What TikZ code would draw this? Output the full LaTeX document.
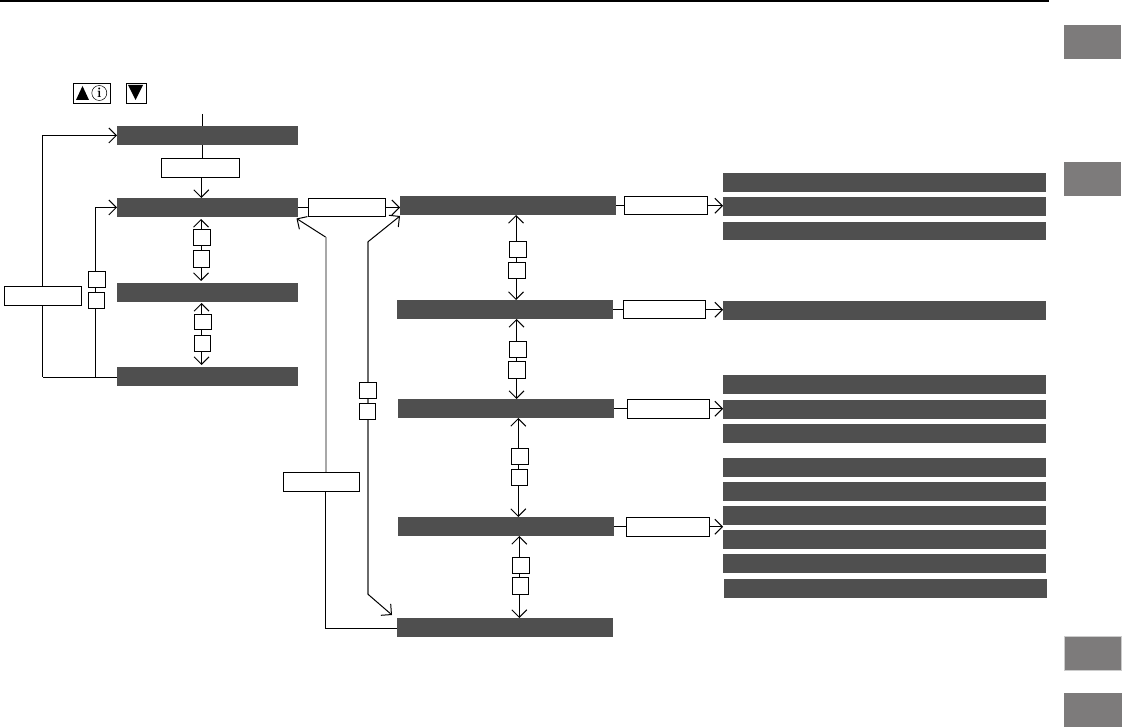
\documentclass[tikz,border=0pt]{standalone}
\usetikzlibrary{arrows.meta,backgrounds}
\definecolor{barcol}{HTML}{4F4F4F}
\definecolor{tabcol}{HTML}{7D7B7B}
\definecolor{lightline}{HTML}{A8A8A8}
\definecolor{darkline}{HTML}{6A6A6A}
\newcommand\mybox[6][]{%
  \pgfmathsetmacro\bwd{#5-#3}\pgfmathsetmacro\bht{#6-#4}%
  \node[#1,minimum width=\bwd pt,minimum height=\bht pt] (#2) at ({(#3+#5)/2},{(#4+#6)/2}) {};}
\tikzset{
  bar/.style={fill=barcol,draw=none,inner sep=0pt,outer sep=0pt},
  tabbox/.style={fill=tabcol,draw=none,inner sep=0pt,outer sep=0pt},
  wbox/.style={fill=white,draw=black,line width=1pt,inner sep=0pt,outer sep=0pt},
  conn/.style={draw=black,line width=1pt},
  arr/.style={conn,-{Straight Barb[length=7.5pt,width=15pt,line width=1pt]}},
  darr/.style={conn,{Straight Barb[length=7.5pt,width=15pt,line width=1pt]}-{Straight Barb[length=7.5pt,width=15pt,line width=1pt]}},
  glight/.style={draw=lightline,line width=2pt},
  gdark/.style={draw=darkline,line width=1.6pt},
}
\begin{document}
\begin{tikzpicture}[x=1pt,y=-1pt]
\useasboundingbox (0,0) rectangle (1122,727);
% top rule
\coordinate (ruleL) at (0,0.8);
\coordinate (ruleR) at (1049,0.8);
\draw[line width=1.6pt] (ruleL) -- (ruleR);
% side tabs
\mybox[tabbox]{tabA}{1064}{25}{1121}{59}
\mybox[tabbox]{tabB}{1064}{162}{1121}{196}
\mybox[tabbox,draw=black!20,line width=0.6pt]{tabC}{1064}{636.5}{1121}{670.5}
\mybox[tabbox]{tabD}{1064}{693}{1122}{727}
% key icons
\mybox[wbox,line width=0.8pt]{keyA}{73}{83}{110}{103}
\mybox[wbox,line width=0.8pt]{keyB}{126}{83}{146}{103}
\fill (76,100) -- (89,100) -- (82.5,86) -- cycle;
\fill (128,85) -- (143,85) -- (135.5,100) -- cycle;
\node[circle,draw=black,line width=0.5pt,inner sep=0pt,minimum size=15pt,font=\bfseries\fontsize{14}{14}\selectfont] (infoI) at (99.3,93) {i};
% left column
\mybox[bar]{L1}{117}{126}{298}{145}
\mybox[bar]{L2}{117}{198}{298}{217}
\mybox[bar]{L3}{117}{283}{298}{302}
\mybox[bar]{L4}{117}{367}{298}{386}
% middle column
\mybox[bar]{M1}{400}{196}{616}{215}
\mybox[bar]{M2}{397}{300}{613}{319}
\mybox[bar]{M3}{398}{399}{614}{418}
\mybox[bar]{M4}{398}{517}{614}{536}
\mybox[bar]{M5}{397}{618}{613}{637}
% right column
\mybox[bar]{Ra}{723}{173}{1046}{192}
\mybox[bar]{Rb}{723}{197}{1046}{216}
\mybox[bar]{Rc}{723}{222}{1046}{240}
\mybox[bar]{Rd}{723}{301}{1046}{320}
\mybox[bar]{Re}{723}{375}{1046}{394}
\mybox[bar]{Rf}{723}{400}{1046}{419}
\mybox[bar]{Rg}{723}{424}{1046}{443}
\mybox[bar]{Rh}{723}{458}{1046}{477}
\mybox[bar]{Ri}{723}{482}{1046}{501}
\mybox[bar]{Rj}{723}{506}{1046}{525}
\mybox[bar]{Rk}{723}{530}{1046}{549}
\mybox[bar]{Rl}{723}{554}{1046}{573}
\mybox[bar]{Rm}{724}{579}{1047}{598}
% wide white boxes
\mybox[wbox]{Bstart}{161}{159}{239}{178}
\mybox[wbox]{Bleft}{4.5}{286.5}{81}{305.5}
\mybox[wbox]{BL2}{308.5}{198.5}{385.5}{216.5}
\mybox[wbox]{Bback}{283.5}{472.5}{359.5}{491}
\mybox[wbox]{BM1}{624.5}{196.5}{707}{215}
\mybox[wbox]{BM2}{623.5}{300.5}{705}{319}
\mybox[wbox]{BM3}{627.5}{399.5}{709}{418}
\mybox[wbox]{BM4}{626.5}{517.5}{709}{536}
% small square boxes
\mybox[wbox]{Sa}{193.5}{229.5}{210.5}{246}
\mybox[wbox]{Sb}{193.5}{250.5}{209.5}{267.5}
\mybox[wbox]{Sc}{194.5}{314.5}{211.5}{330}
\mybox[wbox]{Sd}{194.5}{335.5}{210.5}{351.5}
\mybox[wbox]{Se}{88.5}{271.5}{105.5}{288}
\mybox[wbox]{Sf}{88.5}{292.5}{104.5}{309}
\mybox[wbox]{Sg}{359.5}{382.5}{376.5}{398}
\mybox[wbox]{Sh}{359.5}{403.5}{375.5}{419.5}
\mybox[wbox]{Si}{509.5}{241.5}{526.5}{258}
\mybox[wbox]{Sj}{508.5}{262.5}{525.5}{278.5}
\mybox[wbox]{Sk}{509.5}{341.5}{526.5}{357}
\mybox[wbox]{Sl}{508.5}{361.5}{525.5}{378}
\mybox[wbox]{Sm}{511.5}{448.5}{528.5}{464.5}
\mybox[wbox]{Sn}{511.5}{469.5}{527.5}{485.5}
\mybox[wbox]{So}{512.5}{557.5}{529.5}{573.5}
\mybox[wbox]{Sp}{512.5}{577.5}{528.5}{594}
% free ends and bends
\coordinate (entry) at (202.5,114);
\coordinate (loopA) at (42.5,377);
\coordinate (loopB) at (95.5,377);
\coordinate (lightBend) at (325.5,237);
\coordinate (lightTip) at (296.5,218.5);
\coordinate (darkBendT) at (367.7,242);
\coordinate (darkBendB) at (367.7,594);
\coordinate (darkTipT) at (400,216);
\coordinate (darkTipB) at (392,615);
\coordinate (backBend) at (325.5,628);
% connectors, behind the boxes
\begin{scope}[on background layer]
\draw[conn] (entry) -- (Bstart.north -| entry);
\draw[arr] (Bstart.south -| 201.3,0) -- (L2.north -| 201.3,0);
\draw[darr,shorten <=2pt,shorten >=2pt] (L2.south -| 201,0) -- (L3.north -| 201,0);
\draw[darr,shorten <=1pt,shorten >=2pt] (L3.south -| 201.5,0) -- (L4.north -| 201.5,0);
\draw[conn] (L4.west |- loopA) -- (loopA);
\draw[arr] (loopA) |- (L1.west);
\draw[arr] (loopB) |- (L2.west);
\draw[conn] (L2.east) -- (BL2.west);
\draw[arr] (BL2.east) -- (BL2.east -| M1.west);
\draw[darr] (M1.south -| 516,0) -- (M2.north -| 516,0);
\draw[darr] (M2.south -| 516.5,0) -- (M3.north -| 516.5,0);
\draw[darr] (M3.south -| 518.3,0) -- (M4.north -| 518.3,0);
\draw[darr] (M4.south -| 519.3,0) -- (M5.north -| 519.3,0);
\draw[conn] (M1.east) -- (M1.east -| BM1.west);
\draw[arr] (BM1.east) -- (BM1.east -| Rb.west);
\draw[conn] (M2.east) -- (M2.east -| BM2.west);
\draw[arr] (BM2.east) -- (BM2.east -| Rd.west);
\draw[conn] (M3.east) -- (M3.east -| BM3.west);
\draw[arr] (BM3.east) -- (BM3.east -| Rf.west);
\draw[conn] (M4.east) -- (M4.east -| BM4.west);
\draw[arr] (BM4.east) -- (BM4.east -| Rj.west);
\draw[glight] (Bback.north -| lightBend) -- (lightBend);
\draw[arr] (lightBend) -- (lightTip);
\draw[conn] (Bback.south -| backBend) -- (backBend) -- (backBend -| M5.west);
\draw[gdark] (darkBendT) -- (darkBendB);
\draw[arr] (darkBendT) -- (darkTipT);
\draw[arr] (darkBendB) -- (darkTipB);
\end{scope}
\end{tikzpicture}
\end{document}
